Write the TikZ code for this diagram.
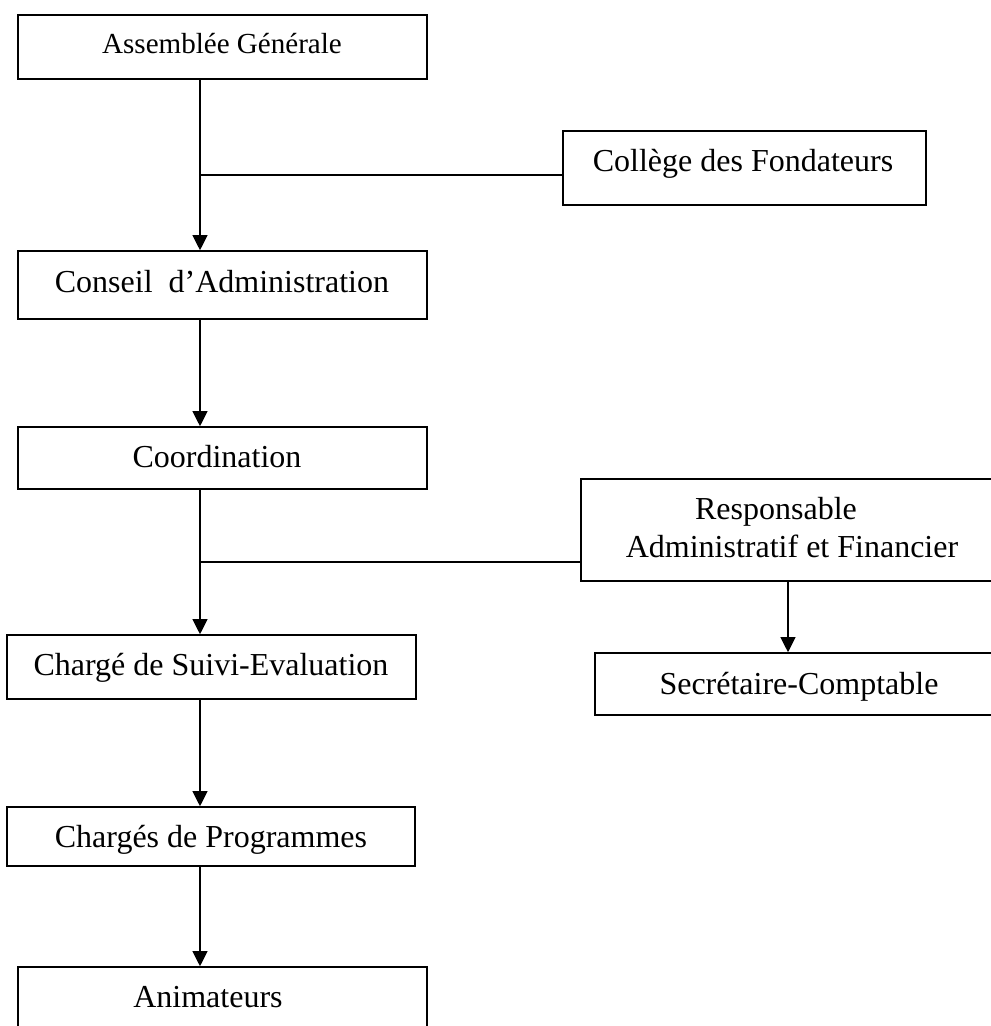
\documentclass[tikz,border=0pt]{standalone}
\usepackage{fontspec}
\setmainfont{Liberation Serif}
\usetikzlibrary{arrows.meta}
\tikzset{
  x=0.75pt, y=-0.75pt,
  box/.style={draw, line width=1pt, rectangle, inner sep=0pt},
  lbl/.style={anchor=base, inner sep=0pt, font=\fontsize{24}{28}\selectfont},
  small/.style={anchor=base, inner sep=0pt, font=\fontsize{21.8}{26}\selectfont},
  arr/.style={line width=1.8pt, -{Triangle[width=11pt,length=11.5pt]}},
  link/.style={line width=0.9pt}
}
\newcommand{\boxat}[5]{\node[box, minimum width=#4*0.75pt, minimum height=#5*0.75pt] (#1) at (#2,#3) {};}
\begin{document}
\begin{tikzpicture}
\useasboundingbox (0,0) rectangle (991,1026);
\clip (0,0) rectangle (991,1026);
% boxes: name, center x, center y, width, height
\boxat{ag}{222.5}{47}{409}{64}
\boxat{cf}{744.5}{168}{363}{74}
\boxat{ca}{222.5}{285}{409}{68}
\boxat{co}{222.5}{458}{409}{62}
\boxat{raf}{805}{530}{448}{102}
\boxat{cse}{211.5}{667}{409}{64}
\boxat{sc}{812}{684}{434}{62}
\boxat{cp}{211}{836.5}{408}{59}
\boxat{an}{222.5}{1000}{409}{66}
% texts
\node[small] (tag) at (222,53) {Assemblée Générale};
\node[lbl] (tcf) at (743,171) {Collège des Fondateurs};
\node[lbl] (tca) at (222,292) {Conseil\ \ d’Administration};
\node[lbl] (tco) at (217,467) {Coordination};
\node[lbl] (traf1) at (776,519) {Responsable};
\node[lbl] (traf2) at (792,557) {Administratif et Financier};
\node[lbl] (tcse) at (211,675) {Chargé de Suivi-Evaluation};
\node[lbl] (tsc) at (799,694) {Secrétaire-Comptable};
\node[lbl] (tcp) at (211,847) {Chargés de Programmes};
\node[lbl] (tan) at (208,1007) {Animateurs};
% junction coordinates
\coordinate (j1) at (200,175);
\coordinate (j2) at (200,562);
% connectors
\draw[arr] (ag.south -| j1) -- (ca.north -| j1);
\draw[link] (j1) -- (j1 -| cf.west);
\draw[arr] (ca.south -| j1) -- (co.north -| j1);
\draw[arr] (co.south -| j2) -- (cse.north -| j2);
\draw[link] (j2) -- (j2 -| raf.west);
\draw[arr] (raf.south -| 788,0) -- (sc.north -| 788,0);
\draw[arr] (cse.south -| j1) -- (cp.north -| j1);
\draw[arr] (cp.south -| j1) -- (an.north -| j1);
\end{tikzpicture}
\end{document}
